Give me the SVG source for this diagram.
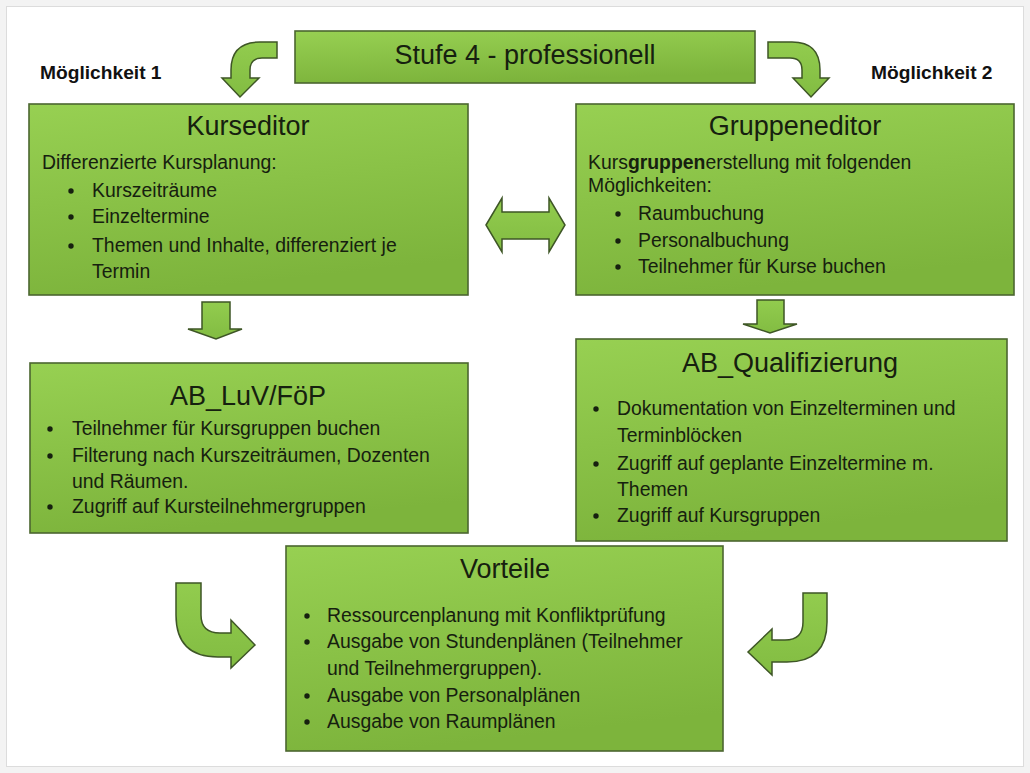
<svg xmlns="http://www.w3.org/2000/svg" width="1030" height="773" viewBox="0 0 1030 773">
  <defs>
    <linearGradient id="boxFill" x1="0" y1="0" x2="0.25" y2="1">
      <stop offset="0" stop-color="#97d052"/>
      <stop offset="1" stop-color="#7db43c"/>
    </linearGradient>
    <linearGradient id="arrowFill" x1="0" y1="0" x2="0" y2="1">
      <stop offset="0" stop-color="#92cc4e"/>
      <stop offset="1" stop-color="#82bc42"/>
    </linearGradient>
  </defs>
  <style>
    .box { fill: url(#boxFill); stroke: #4b6630; stroke-width: 1.6; }
    .arrow { fill: url(#arrowFill); stroke: #3e5626; stroke-width: 1.5; stroke-linejoin: miter; }
    .title { font-family: "Liberation Sans", Arial, sans-serif; font-size: 27px; fill: #16200f; text-anchor: middle; }
    .body { font-family: "Liberation Sans", Arial, sans-serif; font-size: 19.4px; fill: #16200f; }
    .label { font-family: "Liberation Sans", Arial, sans-serif; font-size: 19.2px; font-weight: bold; fill: #111; }
    .dot { fill: #16200f; }
  </style>

  <!-- page -->
  <rect x="0" y="0" width="1030" height="773" fill="#f3f3f3"/>
  <rect x="6.5" y="6.5" width="1017" height="760" fill="#ffffff" stroke="#dcdcdc" stroke-width="1"/>

  <!-- side labels -->
  <text class="label" x="40" y="79">Möglichkeit 1</text>
  <text class="label" x="871" y="79">Möglichkeit 2</text>

  <!-- connectors -->
  <g id="connectors">
    <!-- top left bend -->
    <path class="arrow" d="M277,42 L277,58 L262,58 Q250,58 250,70 L250,78 L259,78 L240,97 L222,78 L231,78 L231,70 Q231,42 260,42 Z"/>
    <!-- top right bend -->
    <path class="arrow" d="M768,42 L792,42 Q820,42 820,70 L820,78 L829,78 L811,97 L793,78 L802,78 L802,70 Q802,58 790,58 L768,58 Z"/>
    <!-- double arrow between editors -->
    <path class="arrow" d="M486,225 L502,198 L502,212 L549,212 L549,198 L565,225 L549,252 L549,239 L502,239 L502,252 Z"/>
    <!-- Kurseditor to AB_LuV/FöP -->
    <path class="arrow" d="M202,302 L230,302 L230,329 L242,329 L216,339 L188,329 L202,329 Z"/>
    <!-- Gruppeneditor to AB_Qualifizierung -->
    <path class="arrow" d="M757,300 L784,300 L784,324 L797,324 L770,333 L743,324 L757,324 Z"/>
    <!-- bottom left bend -->
    <path class="arrow" d="M176,583 L201,583 L201,615 Q201,633 220,633 L231,633 L231,620 L255,645 L231,668 L231,657 L218,657 Q176,657 176,615 Z"/>
    <!-- bottom right bend -->
    <path class="arrow" d="M803,593 L827,593 L827,622 Q827,662 787,662 L772,662 L772,675 L748,652 L772,629 L772,640 L785,640 Q803,640 803,622 Z"/>
  </g>

  <!-- Stufe 4 -->
  <g id="stufe4">
    <rect class="box" x="295" y="31" width="460" height="52"/>
    <text class="title" x="525" y="64">Stufe 4 - professionell</text>
  </g>

  <!-- Kurseditor -->
  <g id="kurseditor">
    <rect class="box" x="29" y="104" width="439" height="191"/>
    <text class="title" x="248" y="135">Kurseditor</text>
    <text class="body" x="42" y="169">Differenzierte Kursplanung:</text>
    <circle class="dot" cx="71" cy="191" r="2.7"/>
    <text class="body" x="92" y="197">Kurszeiträume</text>
    <circle class="dot" cx="71" cy="217" r="2.7"/>
    <text class="body" x="92" y="223">Einzeltermine</text>
    <circle class="dot" cx="71" cy="246" r="2.7"/>
    <text class="body" x="92" y="252">Themen und Inhalte, differenziert je</text>
    <text class="body" x="92" y="278">Termin</text>
  </g>

  <!-- Gruppeneditor -->
  <g id="gruppeneditor">
    <rect class="box" x="576" y="104" width="438" height="191"/>
    <text class="title" x="795" y="135">Gruppeneditor</text>
    <text class="body" x="588" y="169">Kurs<tspan font-weight="bold">gruppen</tspan>erstellung mit folgenden</text>
    <text class="body" x="588" y="192">Möglichkeiten:</text>
    <circle class="dot" cx="618" cy="214" r="2.7"/>
    <text class="body" x="638" y="220">Raumbuchung</text>
    <circle class="dot" cx="618" cy="241" r="2.7"/>
    <text class="body" x="638" y="247">Personalbuchung</text>
    <circle class="dot" cx="618" cy="267" r="2.7"/>
    <text class="body" x="638" y="273">Teilnehmer für Kurse buchen</text>
  </g>

  <!-- AB_LuV/FöP -->
  <g id="ab-luv-foep">
    <rect class="box" x="30" y="363" width="438" height="170"/>
    <text class="title" x="248" y="405">AB_LuV/FöP</text>
    <circle class="dot" cx="50" cy="429" r="2.7"/>
    <text class="body" x="72" y="435">Teilnehmer für Kursgruppen buchen</text>
    <circle class="dot" cx="50" cy="456" r="2.7"/>
    <text class="body" x="72" y="462">Filterung nach Kurszeiträumen, Dozenten</text>
    <text class="body" x="72" y="488">und Räumen.</text>
    <circle class="dot" cx="50" cy="507" r="2.7"/>
    <text class="body" x="72" y="513">Zugriff auf Kursteilnehmergruppen</text>
  </g>

  <!-- AB_Qualifizierung -->
  <g id="ab-qualifizierung">
    <rect class="box" x="576" y="339" width="431" height="202"/>
    <text class="title" x="790" y="372">AB_Qualifizierung</text>
    <circle class="dot" cx="596" cy="409" r="2.7"/>
    <text class="body" x="617" y="415">Dokumentation von Einzelterminen und</text>
    <text class="body" x="617" y="442">Terminblöcken</text>
    <circle class="dot" cx="596" cy="464" r="2.7"/>
    <text class="body" x="617" y="470">Zugriff auf geplante Einzeltermine m.</text>
    <text class="body" x="617" y="496">Themen</text>
    <circle class="dot" cx="596" cy="516" r="2.7"/>
    <text class="body" x="617" y="522">Zugriff auf Kursgruppen</text>
  </g>

  <!-- Vorteile -->
  <g id="vorteile">
    <rect class="box" x="286" y="546" width="437" height="205"/>
    <text class="title" x="505" y="578">Vorteile</text>
    <circle class="dot" cx="307" cy="616" r="2.7"/>
    <text class="body" x="327" y="622">Ressourcenplanung mit Konfliktprüfung</text>
    <circle class="dot" cx="307" cy="642" r="2.7"/>
    <text class="body" x="327" y="648">Ausgabe von Stundenplänen (Teilnehmer</text>
    <text class="body" x="327" y="675">und Teilnehmergruppen).</text>
    <circle class="dot" cx="307" cy="696" r="2.7"/>
    <text class="body" x="327" y="702">Ausgabe von Personalplänen</text>
    <circle class="dot" cx="307" cy="722" r="2.7"/>
    <text class="body" x="327" y="728">Ausgabe von Raumplänen</text>
  </g>
</svg>
